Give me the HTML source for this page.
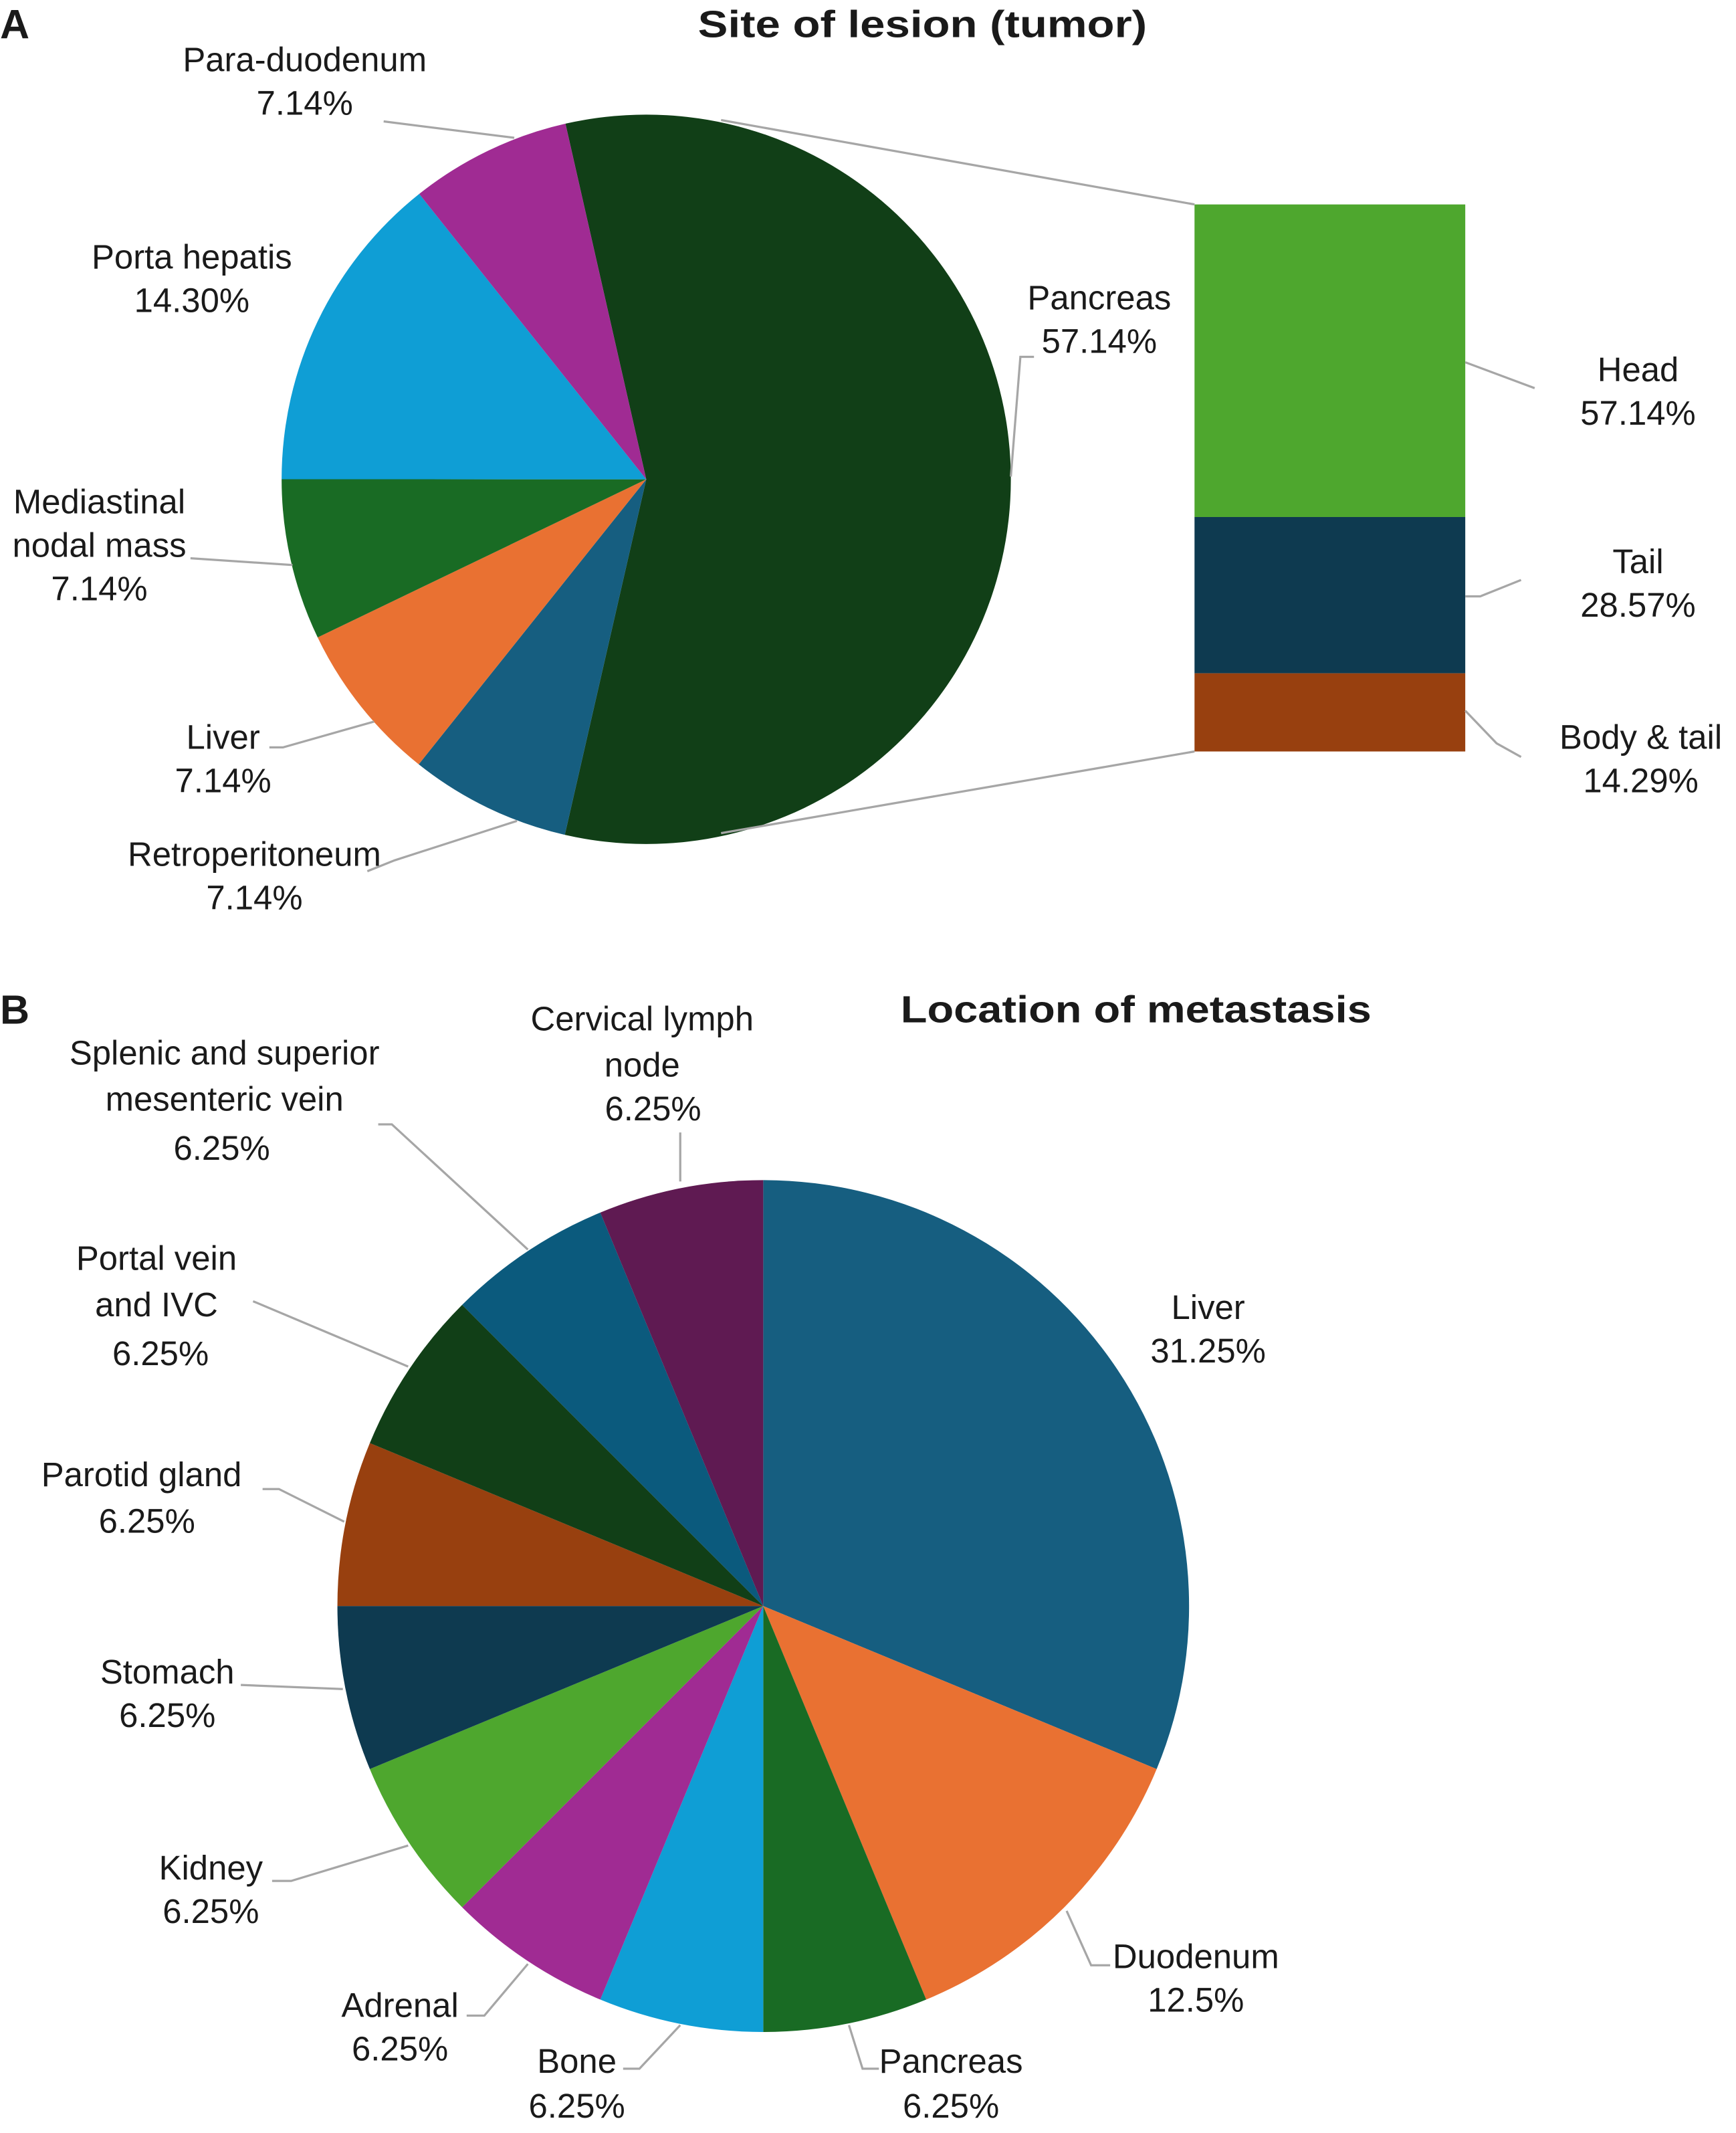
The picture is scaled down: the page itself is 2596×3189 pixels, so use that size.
<!DOCTYPE html>
<html><head><meta charset="utf-8"><style>
html,body{margin:0;padding:0;background:#fff;}
svg{display:block;}
text{font-family:"Liberation Sans","DejaVu Sans",sans-serif;fill:#1a1a1a;}
.lbl{font-size:25px;text-anchor:middle;}
.ttl{font-size:28px;font-weight:bold;}
.lead{fill:none;stroke:#a6a6a6;stroke-width:1.6;}
</style></head><body>
<svg id="chart" width="2596" height="3189" viewBox="0 0 1276 1567" xmlns="http://www.w3.org/2000/svg">
<text x="0" y="28" style="font-size:30px;font-weight:bold">A</text>
<text x="513" y="27" class="ttl" textLength="330" lengthAdjust="spacingAndGlyphs">Site of lesion (tumor)</text>
<text x="0" y="752" style="font-size:30px;font-weight:bold">B</text>
<text x="662" y="751" class="ttl" textLength="346" lengthAdjust="spacingAndGlyphs">Location of metastasis</text>
<g id="pieA"></g>
<g id="barA"></g>
<g id="pieB"></g>
<g>
<polyline class="lead" points="282,89 378,101"/>
<polyline class="lead" points="140,410 215,415"/>
<polyline class="lead" points="198,549 208,549 275,530"/>
<polyline class="lead" points="270,640 290,632 380,603"/>
<polyline class="lead" points="760,262 750,262 743,350"/>
<polyline class="lead" points="530,88 878,150"/>
<polyline class="lead" points="530,612 878,552"/>
<polyline class="lead" points="1077,266 1128,285"/>
<polyline class="lead" points="1077,438 1088,438 1118,426"/>
<polyline class="lead" points="1077,522 1100,546 1118,556"/>
<polyline class="lead" points="500,832 500,868"/>
<polyline class="lead" points="278,826 288,826 388,918"/>
<polyline class="lead" points="186,956 300,1004"/>
<polyline class="lead" points="193,1094 205,1094 253,1118"/>
<polyline class="lead" points="177,1238 252,1241"/>
<polyline class="lead" points="200,1382 214,1382 300,1356"/>
<polyline class="lead" points="343,1481 356,1481 388,1443"/>
<polyline class="lead" points="458,1520 470,1520 500,1488"/>
<polyline class="lead" points="624,1488 634,1520 646,1520"/>
<polyline class="lead" points="784,1404 802,1444 816,1444"/>
</g>
<g>
<text class="lbl" x="224" y="52">Para-duodenum</text><text class="lbl" x="224" y="84">7.14%</text>
<text class="lbl" x="141" y="197">Porta hepatis</text><text class="lbl" x="141" y="229">14.30%</text>
<text class="lbl" x="73" y="377">Mediastinal</text><text class="lbl" x="73" y="409">nodal mass</text><text class="lbl" x="73" y="441">7.14%</text>
<text class="lbl" x="164" y="550">Liver</text><text class="lbl" x="164" y="582">7.14%</text>
<text class="lbl" x="187" y="636">Retroperitoneum</text><text class="lbl" x="187" y="668">7.14%</text>
<text class="lbl" x="808" y="227">Pancreas</text><text class="lbl" x="808" y="259">57.14%</text>
<text class="lbl" x="1204" y="280">Head</text><text class="lbl" x="1204" y="312">57.14%</text>
<text class="lbl" x="1204" y="421">Tail</text><text class="lbl" x="1204" y="453">28.57%</text>
<text class="lbl" x="1206" y="550">Body &amp; tail</text><text class="lbl" x="1206" y="582">14.29%</text>
<text class="lbl" x="472" y="757">Cervical lymph</text><text class="lbl" x="472" y="791">node</text><text class="lbl" x="480" y="823">6.25%</text>
<text class="lbl" x="165" y="782">Splenic and superior</text><text class="lbl" x="165" y="816">mesenteric vein</text><text class="lbl" x="163" y="852">6.25%</text>
<text class="lbl" x="115" y="933">Portal vein</text><text class="lbl" x="115" y="967">and IVC</text><text class="lbl" x="118" y="1003">6.25%</text>
<text class="lbl" x="104" y="1092">Parotid gland</text><text class="lbl" x="108" y="1126">6.25%</text>
<text class="lbl" x="123" y="1237">Stomach</text><text class="lbl" x="123" y="1269">6.25%</text>
<text class="lbl" x="155" y="1381">Kidney</text><text class="lbl" x="155" y="1413">6.25%</text>
<text class="lbl" x="294" y="1482">Adrenal</text><text class="lbl" x="294" y="1514">6.25%</text>
<text class="lbl" x="424" y="1523">Bone</text><text class="lbl" x="424" y="1556">6.25%</text>
<text class="lbl" x="699" y="1523">Pancreas</text><text class="lbl" x="699" y="1556">6.25%</text>
<text class="lbl" x="879" y="1446">Duodenum</text><text class="lbl" x="879" y="1478">12.5%</text>
<text class="lbl" x="888" y="969">Liver</text><text class="lbl" x="888" y="1001">31.25%</text>
</g>
</svg>
<script>
const aNames=['Pancreas','Retroperitoneum','Liver','Mediastinal nodal mass','Porta hepatis','Para-duodenum'];
const aValues=[57.14,7.14,7.14,7.14,14.30,7.14];
const aColors=['#113f17','#165e80','#e97132','#196b24','#0f9ed5','#a02b93'];
const barNames=['Head','Tail','Body & tail'];
const barValues=[57.14,28.57,14.29];
const barColors=['#4ea72e','#0e3a50','#98400f'];
const bNames=['Liver','Duodenum','Pancreas','Bone','Adrenal','Kidney','Stomach','Parotid gland','Portal vein and IVC','Splenic and superior mesenteric vein','Cervical lymph node'];
const bValues=[31.25,12.5,6.25,6.25,6.25,6.25,6.25,6.25,6.25,6.25,6.25];
const bColors=['#165e80','#e97132','#196b24','#0f9ed5','#a02b93','#4ea72e','#0e3a50','#98400f','#113f17','#0b5a7d','#5f1a52'];
const NS='http://www.w3.org/2000/svg';
function pie(gid,vals,cols,names,cx,cy,r,startDeg){
  const g=document.getElementById(gid);
  const tot=vals.reduce((a,b)=>a+b,0);
  let a=startDeg;
  vals.forEach((v,i)=>{
    const a2=a+v/tot*360;
    const p=d=>[cx+r*Math.sin(d*Math.PI/180),cy-r*Math.cos(d*Math.PI/180)];
    const [x1,y1]=p(a),[x2,y2]=p(a2);
    const path=document.createElementNS(NS,'path');
    path.setAttribute('d',`M${cx},${cy}L${x1},${y1}A${r},${r} 0 ${a2-a>180?1:0} 1 ${x2},${y2}Z`);
    path.setAttribute('fill',cols[i]);
    
    
    g.appendChild(path);
    a=a2;
  });
}
pie('pieA',aValues,aColors,aNames,475,352,268,-12.8);
pie('pieB',bValues,bColors,bNames,561,1180,313,0);
(function(){
  const g=document.getElementById('barA');
  const tot=barValues.reduce((a,b)=>a+b,0);
  const top=150,h=402;let y=top;
  barValues.forEach((v,i)=>{
    const hh=v/tot*h;
    const r=document.createElementNS(NS,'rect');
    r.setAttribute('x',878);r.setAttribute('y',y);r.setAttribute('width',199);r.setAttribute('height',hh);
    r.setAttribute('fill',barColors[i]);
    
    
    g.appendChild(r);y+=hh;
  });
})();
</script>
</body></html>
